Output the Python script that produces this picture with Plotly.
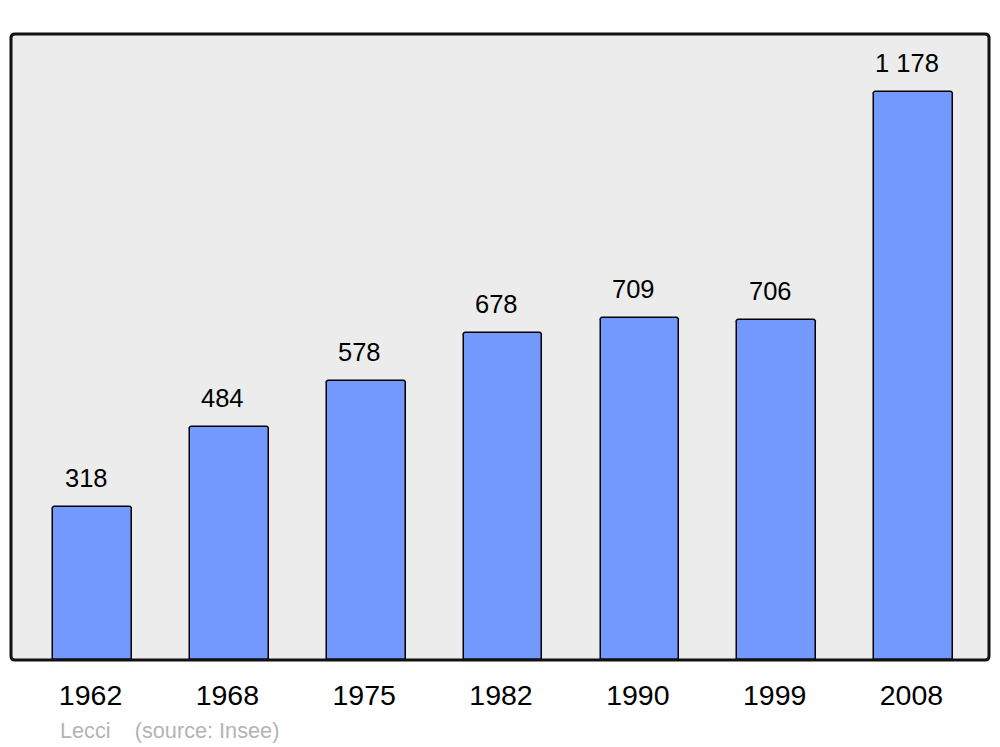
import plotly.graph_objects as go

years = ["1962", "1968", "1975", "1982", "1990", "1999", "2008"]
population = [318, 484, 578, 678, 709, 706, 1178]
value_labels = [f"{v:,}".replace(",", " ") for v in population]

W, H = 1000, 747
L, R, T, B = 11, 11, 34, 87
pw, ph = W - L - R, H - T - B

x_idx = list(range(len(years)))

fig = go.Figure()
fig.add_trace(go.Bar(
    x=x_idx, y=population, width=0.575,
    marker=dict(color="#7399ff", line=dict(color="black", width=1.5), cornerradius=3),
    hoverinfo="skip",
))

for i, (v, lab) in enumerate(zip(population, value_labels)):
    fig.add_annotation(x=i, y=v, text=lab, showarrow=False, xshift=-6.5, yshift=29,
                       yanchor="middle", font=dict(size=25.5, color="black"))

# rounded frame around plot area
rx, ry = 4 / pw, 4 / ph
path = (f"M {rx},0 L {1-rx},0 Q 1,0 1,{ry} L 1,{1-ry} Q 1,1 {1-rx},1 "
        f"L {rx},1 Q 0,1 0,{1-ry} L 0,{ry} Q 0,0 {rx},0 Z")
fig.add_shape(type="path", path=path, xref="paper", yref="paper",
              line=dict(color="#111111", width=3), layer="above")

fig.add_annotation(text="Lecci    (source: Insee)", xref="paper", yref="paper",
                   x=(58 - L) / pw, y=-(730 - 660) / ph, xanchor="left", yanchor="middle",
                   showarrow=False, font=dict(size=21.7, color="#b4b4b4"))

fig.update_layout(
    width=W, height=H, margin=dict(l=L, r=R, t=T, b=B, pad=0),
    paper_bgcolor="white", plot_bgcolor="#ececec",
    font=dict(family="Liberation Sans, Arial, sans-serif", color="black"),
    showlegend=False, bargap=0,
    xaxis=dict(range=[-0.596, 6.552], tickmode="array", tickvals=x_idx, ticktext=years,
               tickfont=dict(size=28.5), showgrid=False, zeroline=False, showline=False,
               ticks="", ticklabelstandoff=15, ticklabelshift=-2, fixedrange=True),
    yaxis=dict(range=[0, 1298.5], showgrid=False, zeroline=False, showticklabels=False,
               showline=False, ticks="", fixedrange=True),
)

fig.write_html("out.html", config={"displayModeBar": False},
               post_script="document.body.style.margin='0';document.body.style.overflow='hidden';")
